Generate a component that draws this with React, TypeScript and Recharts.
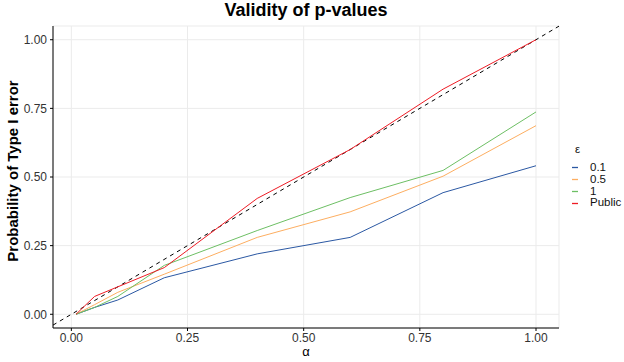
import { LineChart, Line, XAxis, YAxis, CartesianGrid, ReferenceLine } from 'recharts';

const alpha = [0.01, 0.05, 0.1, 0.2, 0.4, 0.6, 0.8, 1.0];
const eps01 = [0, 0.025, 0.052, 0.133, 0.22, 0.28, 0.443, 0.541];
const eps05 = [0, 0.035, 0.08, 0.146, 0.28, 0.373, 0.503, 0.687];
const eps1 = [0, 0.025, 0.065, 0.178, 0.305, 0.425, 0.524, 0.737];
const pub = [0, 0.065, 0.1, 0.17, 0.422, 0.6, 0.82, 1.0];

const xTicks = [0, 0.25, 0.5, 0.75, 1];
const yTicks = [0, 0.25, 0.5, 0.75, 1];

const series = [
  { key: 'e01', name: '0.1', color: '#2b58a3' },
  { key: 'e05', name: '0.5', color: '#fdae61' },
  { key: 'e1', name: '1', color: '#6dbf64' },
  { key: 'pub', name: 'Public', color: '#ee1c25' },
];

const data = alpha.map((a, i) => ({ alpha: a, e01: eps01[i], e05: eps05[i], e1: eps1[i], pub: pub[i] }));

const xDomain = [-0.0395, 1.0495];
const yDomain = [-0.05, 1.05];

const font = '"Liberation Sans", Arial, sans-serif';

function LegendBox() {
  return (
    <div style={{ position: 'absolute', left: 564, top: 141, fontFamily: font, fontSize: 11.5, color: '#111' }}>
      <div style={{ marginLeft: 11, height: 21, lineHeight: '16px' }}>ε</div>
      {series.map((s) => (
        <div key={s.key} style={{ display: 'flex', alignItems: 'center', height: 11.8, lineHeight: '11.8px' }}>
          <svg width={26} height={11} style={{ display: 'block' }}>
            <line x1={8} x2={14} y1={5.5} y2={5.5} stroke={s.color} strokeWidth={1.3} />
          </svg>
          <span>{s.name}</span>
        </div>
      ))}
    </div>
  );
}

export default function App() {
  return (
    <div style={{ position: 'absolute', left: 0, top: 0, width: 624, height: 362, background: '#fff', fontFamily: font }}>
      <LineChart width={624} height={362} data={data} margin={{ top: 26, right: 65, bottom: 0, left: 0 }}>
        <CartesianGrid stroke="#ebebeb" strokeWidth={1} />
        <XAxis
          dataKey="alpha"
          type="number"
          domain={xDomain}
          ticks={xTicks}
          allowDataOverflow
          tickFormatter={(v: number) => v.toFixed(2)}
          height={34}
          stroke="#000"
          tickSize={3}
          tickMargin={2}
          tick={{ fill: '#333', fontSize: 12, fontFamily: font }}
        />
        <YAxis
          type="number"
          domain={yDomain}
          ticks={yTicks}
          allowDataOverflow
          tickFormatter={(v: number) => v.toFixed(2)}
          width={53}
          stroke="#000"
          tickSize={3}
          tickMargin={3}
          tick={{ fill: '#333', fontSize: 12, fontFamily: font }}
        />
        <ReferenceLine
          segment={[
            { x: xDomain[0], y: xDomain[0] },
            { x: xDomain[1], y: xDomain[1] },
          ]}
          stroke="#000"
          strokeWidth={1}
          strokeDasharray="4 4"
        />
        {series.map((s) => (
          <Line
            key={s.key}
            dataKey={s.key}
            name={s.name}
            stroke={s.color}
            strokeWidth={1}
            dot={false}
            type="linear"
            isAnimationActive={false}
          />
        ))}
      </LineChart>
      <div style={{ position: 'absolute', left: 53, width: 506, top: 0, textAlign: 'center', fontWeight: 'bold', fontSize: 18 }}>
        Validity of p-values
      </div>
      <div
        style={{
          position: 'absolute',
          left: 12,
          top: 171,
          transform: 'translate(-50%, -50%) rotate(-90deg)',
          whiteSpace: 'nowrap',
          fontWeight: 'bold',
          fontSize: 15,
        }}
      >
        Probability of Type I error
      </div>
      <div style={{ position: 'absolute', left: 53, width: 506, top: 344, textAlign: 'center', fontSize: 13 }}>α</div>
      <LegendBox />
    </div>
  );
}
